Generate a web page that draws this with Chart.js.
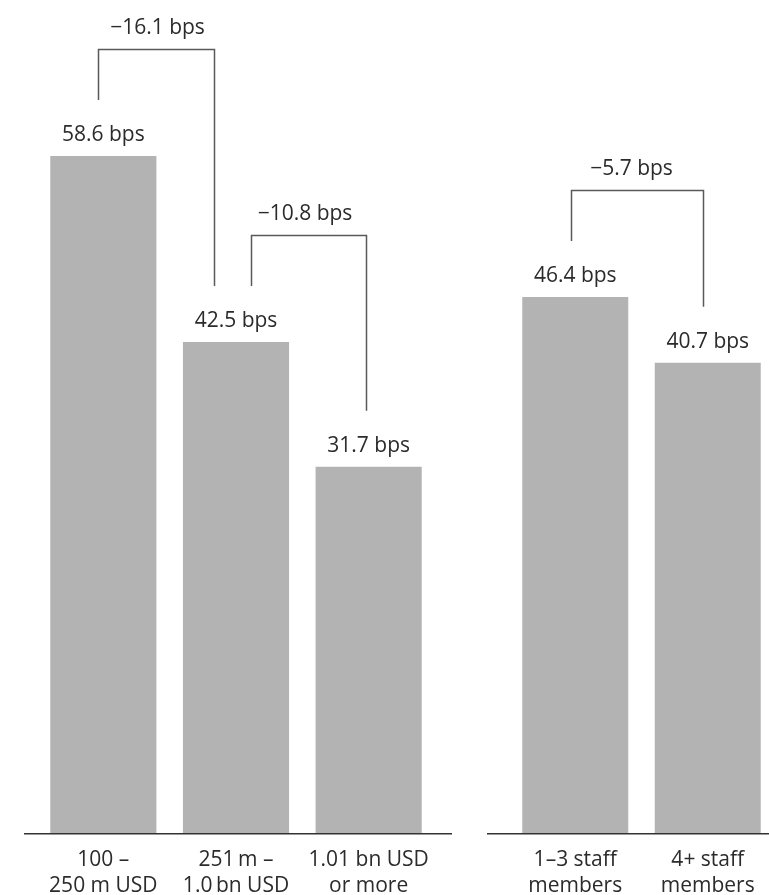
<!DOCTYPE html>
<html><head><meta charset="utf-8">
<script src="https://cdn.jsdelivr.net/npm/chart.js@4"></script>
<style>
html,body{margin:0;padding:0;background:#fff;overflow:hidden;width:769px;height:895px;}
canvas{position:absolute;left:0;top:0;}
</style></head><body>
<canvas id="c1" width="800" height="895"></canvas>
<canvas id="c2" width="800" height="895"></canvas>
<script>
const sizeCategories = [['100 –','250 m USD'],['251\u2009m –','1.0\u2009bn USD'],['1.01 bn USD','or more']];
const sizeValues = [58.6, 42.5, 31.7];
const sizeComparisons = [[0,1],[1,2]];
const staffCategories = [['1–3 staff','members'],['4+ staff','members']];
const staffValues = [46.4, 40.7];
const staffComparisons = [[0,1]];
const valueUnit = 'bps';
const yAxisMax = 72.1;

const FONT = '"Open Sans", "Noto Sans", sans-serif';
const TEXT = '#2b2b2b';

function fmt(v){ return v.toFixed(1) + ' ' + valueUnit; }
function fmtDiff(d){ return (d < 0 ? '\u2212' : '+') + Math.abs(d).toFixed(1) + ' ' + valueUnit; }

const annot = {
  id: 'annot',
  afterDatasetsDraw(chart, args, opts) {
    const ctx = chart.ctx;
    const meta = chart.getDatasetMeta(0);
    const vals = chart.data.datasets[0].data;
    const a = chart.chartArea;
    ctx.save();
    // baseline
    ctx.strokeStyle = '#333';
    ctx.lineWidth = 1.5;
    ctx.beginPath();
    ctx.moveTo(a.left - opts.extL, a.bottom + 0.75);
    ctx.lineTo(a.right + opts.extR, a.bottom + 0.75);
    ctx.stroke();
    // value labels
    ctx.fillStyle = TEXT;
    ctx.font = '21px ' + FONT;
    ctx.textAlign = 'center';
    ctx.textBaseline = 'alphabetic';
    meta.data.forEach((bar, i) => {
      ctx.fillText(fmt(vals[i]), bar.x, bar.y - 15);
    });
    // brackets
    ctx.strokeStyle = '#5a5a5a';
    ctx.lineWidth = 1.5;
    opts.comps.forEach((c, k) => {
      const [i, j] = c;
      const [dxi, dxj, dxl] = opts.offsets[k];
      const bi = meta.data[i], bj = meta.data[j];
      const xi = Math.round(bi.x + dxi) + 0.5, xj = Math.round(bj.x + dxj) + 0.5;
      const yTop = Math.round(Math.min(bi.y, bj.y) - 107) + 0.5;
      ctx.beginPath();
      ctx.moveTo(xi, bi.y - 56);
      ctx.lineTo(xi, yTop);
      ctx.lineTo(xj, yTop);
      ctx.lineTo(xj, bj.y - 56);
      ctx.stroke();
      ctx.fillText(fmtDiff(vals[j] - vals[i]), (xi + xj) / 2 + dxl, yTop - 16);
    });
    ctx.restore();
  }
};

function makeChart(id, labels, values, comps, offsets, padL, padR, extL, extR) {
  return new Chart(document.getElementById(id), {
    type: 'bar',
    data: { labels: labels, datasets: [{ data: values, backgroundColor: '#b3b3b3', borderWidth: 0, categoryPercentage: 1, barPercentage: 0.8 }] },
    options: {
      responsive: false, animation: false, devicePixelRatio: 1,
      layout: { padding: { left: padL, right: padR, top: 0, bottom: 0 } },
      plugins: { legend: { display: false }, tooltip: { enabled: false },
        annot: { comps: comps, offsets: offsets, extL: extL, extR: extR } },
      scales: {
        y: { display: false, min: 0, max: yAxisMax },
        x: {
          grid: { display: false }, border: { display: false },
          ticks: { color: TEXT, font: { family: FONT, size: 21, lineHeight: 1.24 }, padding: 6, maxRotation: 0, autoSkip: false },
          afterFit(s) { s.height = 62; }
        }
      }
    },
    plugins: [annot]
  });
}

makeChart('c1', sizeCategories, sizeValues, sizeComparisons, [[-5, -22, 1], [15, -3, -4], ], 37, 365, 13, 17);
makeChart('c2', staffCategories, staffValues, staffComparisons, [[-4, -5, -6]], 509, 26, 22, 40);
</script>
</body></html>
